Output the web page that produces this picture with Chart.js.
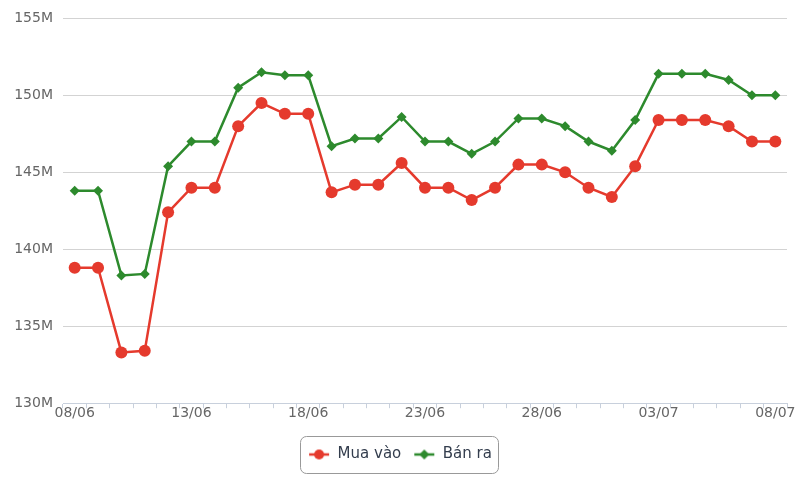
<!DOCTYPE html>
<html>
<head>
<meta charset="utf-8">
<script src="https://cdn.jsdelivr.net/npm/chart.js@4.4.1/dist/chart.umd.min.js"></script>
<style>
  html, body { margin: 0; padding: 0; background: #fff; }
  #wrap { width: 800px; height: 500px; }
</style>
</head>
<body>
<div id="wrap"><canvas id="goldChart"></canvas></div>
<script>
// dates 08/06 -> 08/07, one point per day
const dates = [
  '08/06', '09/06', '10/06', '11/06', '12/06', '13/06', '14/06', '15/06',
  '16/06', '17/06', '18/06', '19/06', '20/06', '21/06', '22/06', '23/06',
  '24/06', '25/06', '26/06', '27/06', '28/06', '29/06', '30/06', '01/07',
  '02/07', '03/07', '04/07', '05/07', '06/07', '07/07', '08/07'
];
// prices in millions
const muaVao = [
  138.8, 138.8, 133.3, 133.4, 142.4, 144.0, 144.0, 148.0,
  149.5, 148.8, 148.8, 143.7, 144.2, 144.2, 145.6, 144.0,
  144.0, 143.2, 144.0, 145.5, 145.5, 145.0, 144.0, 143.4,
  145.4, 148.4, 148.4, 148.4, 148.0, 147.0, 147.0
];
const banRa = [
  143.8, 143.8, 138.3, 138.4, 145.4, 147.0, 147.0, 150.5,
  151.5, 151.3, 151.3, 146.7, 147.2, 147.2, 148.6, 147.0,
  147.0, 146.2, 147.0, 148.5, 148.5, 148.0, 147.0, 146.4,
  148.4, 151.4, 151.4, 151.4, 151.0, 150.0, 150.0
];
const yTicks = [130, 135, 140, 145, 150, 155];

const RED = '#e53a2d';
const GREEN = '#2d8a2d';

// legend marker: short line with the series marker on top
function legendIcon(color, shape) {
  const c = document.createElement('canvas');
  c.width = 22; c.height = 14;
  const g = c.getContext('2d');
  g.strokeStyle = color; g.fillStyle = color; g.lineWidth = 2.5;
  g.beginPath(); g.moveTo(1, 7); g.lineTo(21, 7); g.stroke();
  g.beginPath();
  if (shape === 'circle') {
    g.arc(11, 7, 5, 0, Math.PI * 2);
  } else {
    g.moveTo(11, 2); g.lineTo(16, 7); g.lineTo(11, 12); g.lineTo(6, 7); g.closePath();
  }
  g.fill();
  return c;
}
const icons = [legendIcon(RED, 'circle'), legendIcon(GREEN, 'diamond')];

const legendBox = {
  id: 'legendBox',
  afterDraw(chart) {
    const boxes = chart.legend && chart.legend.legendHitBoxes;
    if (!boxes || !boxes.length) return;
    const ctx = chart.ctx;
    let l = Infinity, r = -Infinity, t = Infinity, b = -Infinity;
    boxes.forEach(h => {
      l = Math.min(l, h.left); r = Math.max(r, h.left + h.width);
      t = Math.min(t, h.top); b = Math.max(b, h.top + h.height);
    });
    ctx.save();
    ctx.strokeStyle = '#999';
    ctx.lineWidth = 1;
    ctx.beginPath();
    ctx.roundRect(Math.round(l - 8) + 0.5, Math.round(t - 11) + 0.5, Math.round(r - l + 14), Math.round(b - t + 22), 6);
    ctx.stroke();
    ctx.restore();
  }
};

new Chart(document.getElementById('goldChart'), {
  type: 'line',
  data: {
    labels: dates,
    datasets: [{
      label: 'Mua vào',
      data: muaVao,
      borderColor: RED,
      backgroundColor: RED,
      borderWidth: 2.5,
      pointStyle: 'circle',
      pointRadius: 6,
      pointBorderWidth: 0,
      tension: 0
    }, {
      label: 'Bán ra',
      data: banRa,
      borderColor: GREEN,
      backgroundColor: GREEN,
      borderWidth: 2.5,
      pointStyle: 'rectRot',
      pointRadius: 5,
      pointBorderWidth: 0,
      tension: 0
    }]
  },
  options: {
    responsive: true,
    maintainAspectRatio: false,
    animation: false,
    layout: { padding: { top: 8, right: 13, left: 13, bottom: 28 } },
    scales: {
      x: {
        offset: true,
        afterFit: function (s) { s.height += 16; },
        border: { display: true, color: '#c8d0dc', width: 1 },
        grid: { offset: true, drawOnChartArea: false, tickLength: 5, color: '#c8d0dc' },
        ticks: {
          autoSkip: false,
          maxRotation: 0,
          padding: -3,
          color: '#666',
          font: { family: 'DejaVu Sans', size: 14 },
          callback: function (v, i) { return i % 5 === 0 ? dates[i] : ''; }
        }
      },
      y: {
        min: yTicks[0],
        max: yTicks[yTicks.length - 1],
        afterFit: function (s) { s.width = 50; },
        afterBuildTicks: function (s) { s.ticks = yTicks.map(v => ({ value: v })); },
        border: { display: false },
        grid: { drawTicks: false, color: '#d3d3d3', lineWidth: 1 },
        ticks: {
          padding: 10,
          color: '#666',
          font: { family: 'DejaVu Sans', size: 14 },
          callback: v => v + 'M'
        }
      }
    },
    plugins: {
      tooltip: { enabled: false },
      legend: {
        position: 'bottom',
        labels: {
          usePointStyle: true,
          pointStyleWidth: 22,
          padding: 12,
          color: '#333d4d',
          font: { family: 'DejaVu Sans', size: 15 },
          generateLabels: function (chart) {
            return chart.data.datasets.map((ds, i) => ({
              text: ds.label,
              pointStyle: icons[i],
              fillStyle: ds.borderColor,
              strokeStyle: ds.borderColor,
              fontColor: '#333d4d',
              lineWidth: 0,
              hidden: false,
              datasetIndex: i
            }));
          }
        }
      }
    }
  },
  plugins: [legendBox]
});
</script>
</body>
</html>
